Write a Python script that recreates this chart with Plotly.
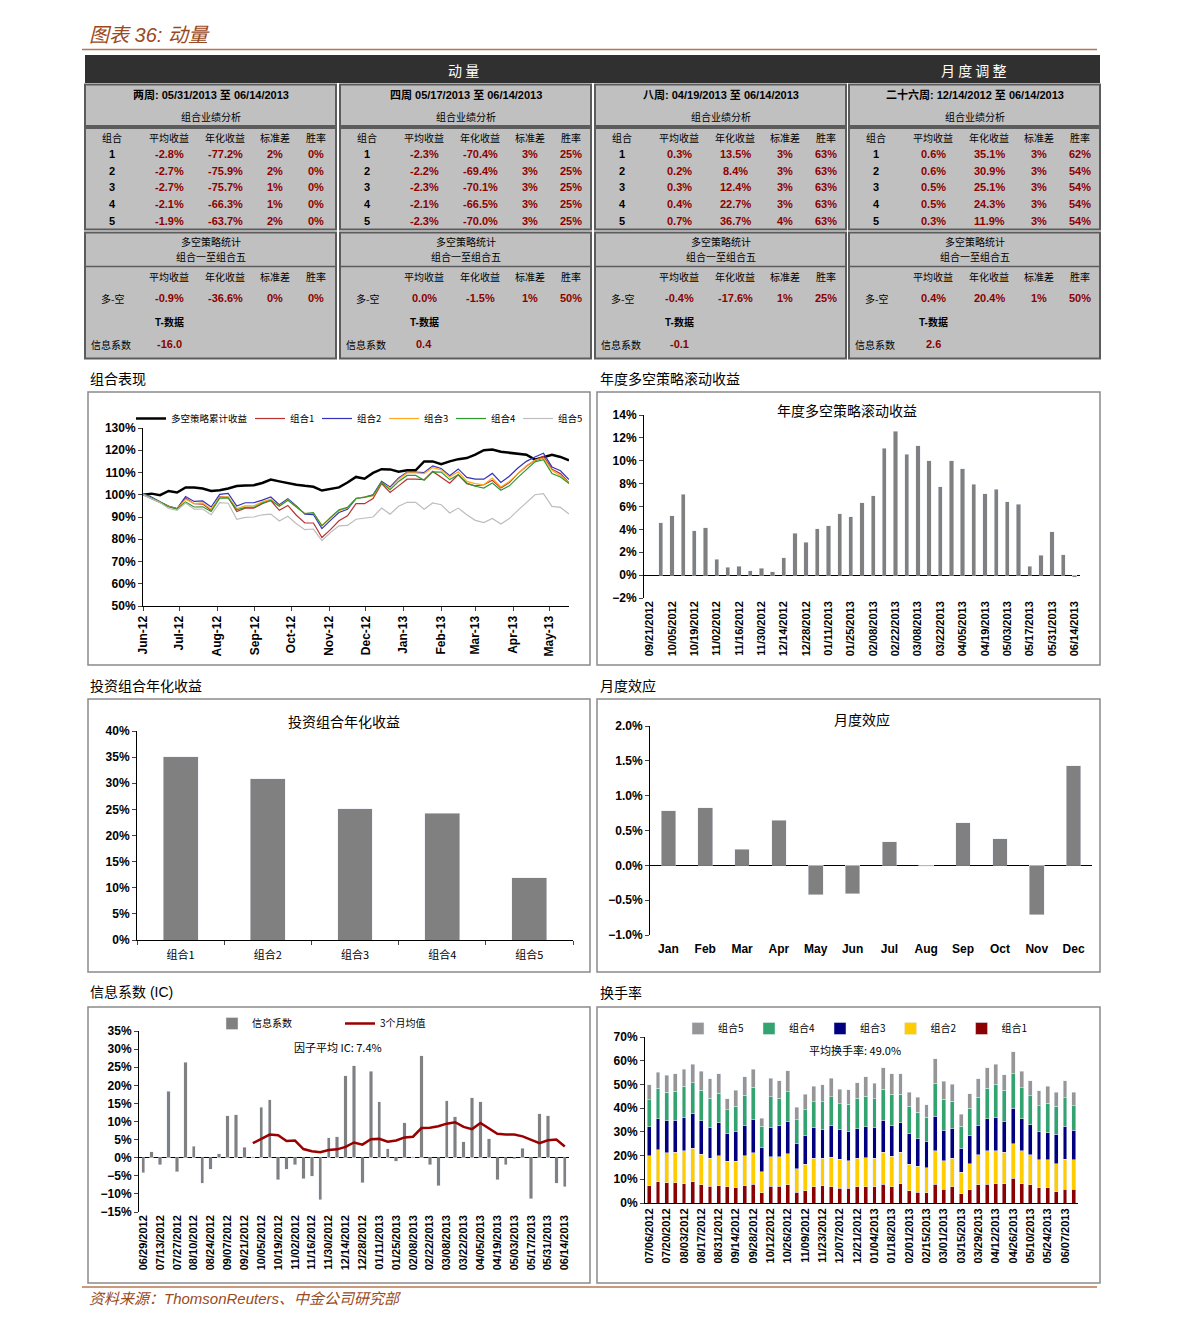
import plotly.graph_objects as go
import pandas as pd

W, H = 1191, 1327
def X(px): return px / W
def Y(py): return 1 - py / H
def xdom(a, b): return [a / W, b / W]
def ydom(top, bottom): return [1 - bottom / H, 1 - top / H]

CJK = "Noto Sans CJK SC"
NUM = "Liberation Sans"
MIX = "Liberation Sans, Noto Sans CJK SC"
DARKRED = "#8b0000"
BROWN = "#9a4a22"
BARGRAY = "#808080"

# ---------------- data ----------------
ALL_WEEKS = ["06/01/2012", "06/08/2012", "06/15/2012", "06/22/2012", "06/29/2012", "07/06/2012",
             "07/13/2012", "07/20/2012", "07/27/2012", "08/03/2012", "08/10/2012", "08/17/2012",
             "08/24/2012", "08/31/2012", "09/07/2012", "09/14/2012", "09/21/2012", "09/28/2012",
             "10/05/2012", "10/12/2012", "10/19/2012", "10/26/2012", "11/02/2012", "11/09/2012",
             "11/16/2012", "11/23/2012", "11/30/2012", "12/07/2012", "12/14/2012", "12/21/2012",
             "12/28/2012", "01/04/2013", "01/11/2013", "01/18/2013", "01/25/2013", "02/01/2013",
             "02/08/2013", "02/15/2013", "02/22/2013", "03/01/2013", "03/08/2013", "03/15/2013",
             "03/22/2013", "03/29/2013", "04/05/2013", "04/12/2013", "04/19/2013", "04/26/2013",
             "05/03/2013", "05/10/2013", "05/17/2013", "05/24/2013", "05/31/2013", "06/07/2013",
             "06/14/2013"]

# chart 1: cumulative performance (%)
PERF_DATES = ALL_WEEKS[:51]
LS_CUM = [100.0, 100.5, 99.8, 101.7, 101.0, 103.3, 103.3, 102.8, 101.7, 102.0,
          102.8, 103.9, 104.2, 104.3, 105.3, 106.8, 106.0, 105.2, 104.5, 104.0,
          103.6, 101.9, 102.5, 103.3, 105.5, 108.0, 107.2, 109.8, 111.5, 111.4,
          110.4, 111.0, 111.0, 115.0, 115.0, 113.7, 115.0, 116.0, 116.5, 118.0,
          120.0, 120.3, 119.3, 118.9, 118.5, 118.0, 115.8, 116.8, 118.0, 117.0, 115.5]
G1_CUM = [100.0, 98.3, 96.8, 94.8, 93.7, 98.5, 96.0, 95.8, 93.0, 99.0,
          98.8, 92.5, 94.0, 94.0, 96.0, 97.4, 93.0, 95.2, 90.8, 87.3,
          87.3, 80.8, 84.3, 88.3, 90.5, 96.0, 96.0, 98.3, 105.0, 101.0,
          104.0, 107.0, 107.0, 106.8, 110.5, 108.0, 105.2, 109.0, 105.0, 104.0,
          104.5, 106.5, 103.0, 105.5, 109.5, 112.8, 115.5, 117.3, 111.5, 109.5, 105.5]
G2_CUM = [100.5, 99.0, 96.8, 94.9, 93.8, 99.2, 97.0, 97.2, 94.5, 100.2,
          100.6, 94.9, 96.4, 96.4, 97.6, 99.0, 95.5, 98.2, 95.0, 91.3,
          91.1, 84.8, 88.5, 92.0, 93.5, 98.3, 99.0, 100.0, 106.0, 103.5,
          107.5, 110.2, 110.2, 110.0, 113.0, 111.8, 108.6, 111.6, 107.8, 107.0,
          107.0, 109.6, 105.5, 108.3, 112.0, 115.0, 117.0, 118.7, 112.5, 110.8, 106.8]
G3_CUM = [100.3, 98.5, 96.8, 94.8, 93.6, 98.0, 96.0, 96.3, 93.5, 98.8,
          99.0, 93.8, 95.0, 95.0, 96.8, 98.0, 95.0, 97.8, 94.5, 91.5,
          91.8, 86.3, 89.5, 92.8, 94.0, 98.4, 99.0, 99.5, 105.5, 103.0,
          107.0, 109.8, 109.8, 109.5, 112.2, 111.2, 108.0, 110.3, 106.0, 105.0,
          104.5, 107.5, 103.5, 106.0, 109.5, 113.0, 115.5, 116.5, 111.0, 108.5, 105.5]
G4_CUM = [100.2, 98.5, 96.8, 94.6, 93.6, 96.8, 94.5, 94.6, 92.5, 98.5,
          98.6, 93.2, 94.3, 94.3, 96.3, 97.5, 94.8, 97.5, 94.3, 91.5,
          92.0, 86.0, 89.8, 93.2, 94.3, 98.3, 98.8, 99.8, 105.5, 102.3,
          106.0, 108.7, 108.7, 106.5, 110.3, 110.2, 106.8, 109.0, 105.3, 103.8,
          103.0, 105.3, 102.0, 104.0, 107.8, 111.5, 114.8, 115.8, 109.5, 108.0, 105.0]
G5_CUM = [100.0, 98.3, 96.5, 93.8, 93.0, 96.3, 93.5, 93.6, 91.0, 96.5,
          96.2, 89.0, 89.8, 90.0, 91.0, 91.3, 88.2, 90.3, 87.0, 84.3,
          84.6, 79.4, 83.0, 86.0, 86.2, 89.0, 89.6, 90.0, 94.0, 91.3,
          94.8, 96.6, 96.6, 93.5, 96.3, 95.5, 91.8, 94.0, 91.0, 88.5,
          87.5, 89.3, 86.8, 89.3, 93.0, 96.3, 100.0, 100.5, 94.8, 94.3, 91.3]

# chart 2: rolling annual long-short return (%)
ROLL_DATES = ALL_WEEKS[16:]
ROLL_RET = [None, 4.6, 5.18, 7.07, 3.9, 4.16, 1.37, 0.67, 0.79, 0.38, 0.58, 0.29, 1.51,
            3.64, 2.88, 4.07, 4.33, 5.35, 5.09, 6.31, 6.95, 11.08, 12.6, 10.56, 11.32,
            9.98, 7.71, 9.98, 9.28, 7.94, 7.13, 7.5, 6.43, 6.2, 0.79, 1.75, 3.78, 1.8, -0.17]

# chart 3: annualized return by portfolio (%)
GROUPS = ["组合1", "组合2", "组合3", "组合4", "组合5"]
ANNUAL_RET = [35.1, 30.9, 25.1, 24.3, 11.9]

# chart 4: monthly effect (%)
MONTHS = ["Jan", "Feb", "Mar", "Apr", "May", "Jun", "Jul", "Aug", "Sep", "Oct", "Nov", "Dec"]
MONTH_EFFECT = [0.78, 0.83, 0.23, 0.65, -0.42, -0.41, 0.34, -0.01, 0.61, 0.38, -0.71, 1.43]

# chart 5: information coefficient (%)
IC_DATES = ALL_WEEKS[4:]
IC_VALUES = [-4.2, 1.7, -2.0, 18.3, -3.9, 26.4, 3.1, -7.0, -3.2, 1.1,
             11.6, 11.9, 2.9, 0.3, 13.9, 16.0, -6.1, -3.2, -2.0, -5.8,
             -5.1, -11.6, 5.5, 5.8, 22.7, 25.4, -6.9, 23.9, 15.5, 2.5,
             -1.0, 9.7, 0.3, 28.2, -2.0, -7.7, 15.7, 11.3, 4.4, 16.5,
             15.5, 5.3, -6.1, -1.9, -0.3, 2.6, -11.4, 12.1, 11.6, -7.1, -8.0]
IC_MA3 = [None] * 13 + [4.0, 5.2, 6.4, 6.2, 4.6, 4.75, 2.4, 1.8, 1.5, 2.1,
                        2.3, 3.0, 4.2, 3.6, 5.1, 5.2, 4.4, 4.75, 5.6, 5.8,
                        8.2, 8.3, 8.7, 9.4, 9.8, 8.5, 7.9, 9.6, 8.2, 6.6,
                        6.4, 6.4, 5.9, 5.0, 4.0, 4.8, 5.0, 3.1]
IC_NOTE = "因子平均 IC: 7.4%"

# chart 6: turnover by portfolio (%)
TURN_DATES = ALL_WEEKS[5:]
TURN_G1 = [7.2, 9.0, 8.5, 8.5, 8.2, 9.0, 7.6, 7.0, 7.3, 6.8, 6.5, 7.3, 7.9, 4.4, 7.0, 7.0, 7.7, 4.5, 5.2, 6.8,
           7.2, 6.9, 6.3, 6.3, 6.8, 6.8, 6.9, 8.0, 6.9, 8.2, 5.2, 4.6, 4.4, 7.9, 5.9, 6.9, 3.8, 5.6, 7.7, 7.9,
           8.2, 8.2, 10.4, 8.2, 7.6, 6.5, 6.5, 4.8, 5.9, 5.9]
TURN_G2 = [12.7, 13.4, 12.6, 12.9, 13.8, 14.1, 13.0, 11.9, 12.7, 10.9, 11.2, 12.7, 13.2, 8.8, 12.4, 12.6, 13.1, 10.0, 11.1, 12.1,
           11.7, 12.4, 12.2, 11.6, 12.1, 12.2, 12.0, 13.5, 12.8, 13.1, 11.1, 11.0, 10.5, 14.2, 12.0, 12.0, 9.2, 10.9, 12.7, 14.2,
           13.9, 13.3, 14.5, 13.8, 12.7, 11.7, 11.7, 11.8, 12.6, 12.3]
TURN_G3 = [12.2, 13.1, 13.5, 13.5, 13.9, 14.5, 14.0, 12.9, 13.8, 11.5, 12.3, 12.7, 14.0, 10.2, 12.4, 13.2, 13.6, 10.4, 12.0, 12.9,
           12.1, 13.4, 12.5, 12.2, 12.5, 13.1, 12.9, 13.3, 13.0, 12.5, 13.0, 11.4, 11.0, 14.4, 12.8, 12.6, 10.0, 11.8, 12.3, 13.5,
           14.0, 12.9, 15.0, 13.5, 12.8, 11.8, 11.5, 12.3, 13.8, 12.5]
TURN_G4 = [11.4, 12.8, 12.0, 12.3, 13.3, 13.1, 12.9, 12.3, 12.4, 10.1, 10.7, 12.7, 13.8, 8.9, 13.0, 11.3, 12.6, 10.2, 11.1, 11.0,
           11.8, 12.2, 10.8, 11.6, 12.8, 13.0, 12.1, 13.1, 13.2, 12.1, 11.4, 11.2, 10.2, 13.9, 13.0, 11.5, 9.4, 11.6, 11.8, 12.7,
           13.9, 13.1, 14.6, 13.2, 12.1, 11.1, 12.3, 11.8, 12.1, 10.4]
TURN_G5 = [6.4, 6.8, 7.2, 7.2, 7.3, 7.9, 8.1, 8.2, 8.4, 4.6, 6.9, 7.8, 7.6, 3.5, 7.9, 7.4, 8.8, 5.2, 6.5, 6.5,
           7.1, 7.8, 6.1, 6.0, 6.5, 8.1, 6.5, 9.1, 8.6, 8.5, 6.1, 6.3, 5.3, 10.4, 7.7, 7.1, 5.1, 6.2, 7.8, 8.7,
           8.5, 6.6, 9.2, 6.9, 6.3, 6.2, 7.3, 6.1, 7.1, 5.7]
TURN_NOTE = "平均换手率: 49.0%"

# table data
PANEL_PERIODS = ["两周: 05/31/2013 至 06/14/2013", "四周 05/17/2013 至 06/14/2013",
                 "八周: 04/19/2013 至 06/14/2013", "二十六周: 12/14/2012 至 06/14/2013"]
AVG_RET = [[-2.8, -2.7, -2.7, -2.1, -1.9], [-2.3, -2.2, -2.3, -2.1, -2.3],
           [0.3, 0.2, 0.3, 0.4, 0.7], [0.6, 0.6, 0.5, 0.5, 0.3]]
ANN_RET = [[-77.2, -75.9, -75.7, -66.3, -63.7], [-70.4, -69.4, -70.1, -66.5, -70.0],
           [13.5, 8.4, 12.4, 22.7, 36.7], [35.1, 30.9, 25.1, 24.3, 11.9]]
STD_DEV = [[2, 2, 1, 1, 2], [3, 3, 3, 3, 3], [3, 3, 3, 3, 4], [3, 3, 3, 3, 3]]
WIN_RATE = [[0, 0, 0, 0, 0], [25, 25, 25, 25, 25], [63, 63, 63, 63, 63], [62, 54, 54, 54, 54]]
LS_AVG = [-0.9, 0.0, -0.4, 0.4]
LS_ANN = [-36.6, -1.5, -17.6, 20.4]
LS_STD = [0, 1, 1, 1]
LS_WIN = [0, 50, 25, 50]
IC_T = [-16.0, 0.4, -0.1, 2.6]
COL_HEADERS = ["组合", "平均收益", "年化收益", "标准差", "胜率"]

# ---------------- figure ----------------
fig = go.Figure()

# chart 1 lines
perf_x = pd.to_datetime(PERF_DATES, format="%m/%d/%Y")
line_specs = [("多空策略累计收益", LS_CUM, "#000000", 2.5, 74),
              ("组合1", G1_CUM, "#b83232", 1.2, 22),
              ("组合2", G2_CUM, "#3333bb", 1.2, 22),
              ("组合3", G3_CUM, "#ffa820", 1.2, 22),
              ("组合4", G4_CUM, "#2e9a2e", 1.2, 22),
              ("组合5", G5_CUM, "#bdbdbd", 1.2, 22)]
for name, vals, col, w, lw in line_specs:
    fig.add_trace(go.Scatter(x=perf_x, y=vals, mode="lines", name=name, legendwidth=lw,
                             line=dict(color=col, width=w), xaxis="x", yaxis="y", legend="legend"))

# chart 2 bars
fig.add_trace(go.Bar(x=ROLL_DATES, y=ROLL_RET, marker_color=BARGRAY, width=0.38,
                     xaxis="x2", yaxis="y2", showlegend=False))
# chart 3 bars
fig.add_trace(go.Bar(x=GROUPS, y=ANNUAL_RET, marker_color=BARGRAY, width=0.4,
                     xaxis="x3", yaxis="y3", showlegend=False))
# chart 4 bars
fig.add_trace(go.Bar(x=MONTHS, y=MONTH_EFFECT, marker_color=BARGRAY, width=0.4,
                     xaxis="x4", yaxis="y4", showlegend=False))
# chart 5
fig.add_trace(go.Bar(x=IC_DATES, y=IC_VALUES, name="信息系数", marker_color=BARGRAY, width=0.4,
                     legendwidth=83, xaxis="x5", yaxis="y5", legend="legend2"))
fig.add_trace(go.Scatter(x=IC_DATES, y=IC_MA3, name="3个月均值", mode="lines",
                         line=dict(color="#990000", width=2.5), xaxis="x5", yaxis="y5",
                         legend="legend2"))
# chart 6 stacked
for name, vals, col in [("组合1", TURN_G1, "#8b0000"), ("组合2", TURN_G2, "#ffcc00"),
                        ("组合3", TURN_G3, "#000080"), ("组合4", TURN_G4, "#33a370"),
                        ("组合5", TURN_G5, "#969696")]:
    fig.add_trace(go.Bar(x=TURN_DATES, y=vals, name=name, marker_color=col, width=0.45,
                         xaxis="x6", yaxis="y6", legend="legend3"))

TICKFONT = dict(family=NUM, size=12, color="black", weight="bold")
DATEFONT = dict(family=NUM, size=11, color="black", weight="bold")

def yax(dom, rng, dtick, fmt=None, zero=False):
    d = dict(domain=dom, range=rng, dtick=dtick, ticksuffix="%", showgrid=False,
             showline=True, linecolor="black", linewidth=1, ticks="outside", ticklen=4,
             tickfont=TICKFONT, zeroline=zero, zerolinecolor="black", zerolinewidth=1,
             automargin=False, fixedrange=True)
    if fmt:
        d["tickformat"] = fmt
    return d

layout = dict(
    width=W, height=H, margin=dict(l=0, r=0, t=0, b=0),
    paper_bgcolor="white", plot_bgcolor="rgba(0,0,0,0)",
    barmode="stack", showlegend=True,
    font=dict(family=CJK, size=11, color="black"),
    xaxis=dict(domain=xdom(143, 569), anchor="y", type="date",
               range=["2012-06-01", "2013-05-17"], dtick="M1", tick0="2012-06-01",
               tickformat="%b-%y", tickangle=-90, tickfont=TICKFONT, showgrid=False,
               showline=True, linecolor="black", ticks="outside", ticklen=4, automargin=False),
    yaxis=yax(ydom(428, 606), [50, 130], 10) | dict(anchor="x"),
    xaxis2=dict(domain=xdom(644, 1080), anchor="y2", type="category",
                tickvals=ROLL_DATES[::2], tickangle=-90, tickfont=DATEFONT,
                showgrid=False, showline=False, ticks="", automargin=False),
    yaxis2=yax(ydom(415, 598), [-2, 14], 2, zero=True) | dict(anchor="x2"),
    xaxis3=dict(domain=xdom(137, 573), anchor="y3", type="category",
                tickfont=dict(family=CJK, size=11, color="black"), showgrid=False,
                showline=True, linecolor="black", ticks="outside", ticklen=4,
                tickson="boundaries", ticklabelstandoff=5, automargin=False),
    yaxis3=yax(ydom(731, 940), [0, 40], 5) | dict(anchor="x3"),
    xaxis4=dict(domain=xdom(650, 1092), anchor="y4", type="category",
                tickfont=dict(family=NUM, size=12, color="black", weight="bold"),
                showgrid=False, showline=False, ticks="", ticklabelstandoff=5, automargin=False),
    yaxis4=yax(ydom(726, 935), [-1, 2], 0.5, fmt=".1f", zero=True) | dict(anchor="x4"),
    xaxis5=dict(domain=xdom(139, 569), anchor="y5", type="category",
                tickvals=IC_DATES[::2], tickangle=-90, tickfont=DATEFONT,
                showgrid=False, showline=False, ticks="", automargin=False),
    yaxis5=yax(ydom(1031, 1212), [-15, 35], 5, zero=True) | dict(anchor="x5"),
    xaxis6=dict(domain=xdom(645, 1078), anchor="y6", type="category",
                tickvals=TURN_DATES[:-1:2], tickangle=-90, tickfont=DATEFONT,
                showgrid=False, showline=True, linecolor="black", ticks="", automargin=False),
    yaxis6=yax(ydom(1037, 1203), [0, 70], 10) | dict(anchor="x6"),
    legend=dict(orientation="h", x=X(131), y=Y(404), xanchor="left", yanchor="top",
                font=dict(family=CJK, size=9.5), itemwidth=30, bgcolor="rgba(0,0,0,0)",
                traceorder="normal", tracegroupgap=0),
    legend2=dict(orientation="h", x=X(212), y=Y(1009), xanchor="left", yanchor="top",
                 font=dict(family=CJK, size=10), itemwidth=30, bgcolor="rgba(0,0,0,0)",
                 traceorder="normal"),
    legend3=dict(orientation="h", x=X(678), y=Y(1014), xanchor="left", yanchor="top",
                 font=dict(family=CJK, size=10), itemwidth=30, bgcolor="rgba(0,0,0,0)",
                 traceorder="reversed"),
)

shapes = []
anns = []

def rect(x0, y0, x1, y1, fill, line_color, lw):
    shapes.append(dict(type="rect", xref="paper", yref="paper", x0=X(x0), x1=X(x1),
                       y0=Y(y1), y1=Y(y0), fillcolor=fill,
                       line=dict(color=line_color, width=lw), layer="below"))

def hline(x0, x1, y, color, lw):
    shapes.append(dict(type="line", xref="paper", yref="paper", x0=X(x0), x1=X(x1),
                       y0=Y(y), y1=Y(y), line=dict(color=color, width=lw), layer="below"))

def text(px, py, s, size=10, color="black", family=CJK, bold=False, italic=False, xanchor="center"):
    anns.append(dict(xref="paper", yref="paper", x=X(px), y=Y(py), text=s, showarrow=False,
                     xanchor=xanchor, yanchor="middle",
                     font=dict(family=family, size=size, color=color,
                               weight="bold" if bold else "normal",
                               style="italic" if italic else "normal")))

# page title & footer
text(87, 35, "图表 36: 动量", size=20, color=BROWN, family=MIX, italic=True, xanchor="left")
hline(82, 1097, 49.5, "#b8764f", 1.5)
hline(82, 1097, 1287, "#b8764f", 1.5)
text(87, 1298, "资料来源：ThomsonReuters、中金公司研究部", size=15, color=BROWN, family=MIX,
     italic=True, xanchor="left")

# dark header bar
rect(85, 55, 1100, 83, "#303030", "#303030", 0)
text(463, 70, "动 量", size=14, color="white")
text(973, 70, "月 度 调 整", size=14, color="white")

# table panels
PANEL_LEFT = [85, 340, 595, 849]
PW = 251
COLS = [27, 84, 140, 190, 231]
ROW_Y = [154, 170.7, 187.3, 204, 220.7]
for p, L in enumerate(PANEL_LEFT):
    rect(L, 84.5, L + PW, 126, "#c0c0c0", "#5c5c5c", 2)
    rect(L, 128, L + PW, 229.5, "#c0c0c0", "#5c5c5c", 2)
    rect(L, 232.5, L + PW, 358.5, "#c0c0c0", "#5c5c5c", 2)
    hline(L, L + PW, 266.5, "#5c5c5c", 1.5)
    cx = L + PW / 2
    text(cx, 94.5, PANEL_PERIODS[p], size=11, family=MIX, bold=True)
    text(cx, 116.5, "组合业绩分析", size=10)
    for c, h in enumerate(COL_HEADERS):
        text(L + COLS[c], 137.5, h, size=10)
    for r in range(5):
        yy = ROW_Y[r]
        text(L + COLS[0], yy, str(r + 1), size=11, family=NUM, bold=True)
        text(L + COLS[1], yy, f"{AVG_RET[p][r]:.1f}%", size=11, family=NUM, bold=True, color=DARKRED)
        text(L + COLS[2], yy, f"{ANN_RET[p][r]:.1f}%", size=11, family=NUM, bold=True, color=DARKRED)
        text(L + COLS[3], yy, f"{STD_DEV[p][r]}%", size=11, family=NUM, bold=True, color=DARKRED)
        text(L + COLS[4], yy, f"{WIN_RATE[p][r]}%", size=11, family=NUM, bold=True, color=DARKRED)
    text(cx, 242, "多空策略统计", size=10)
    text(cx, 256.5, "组合一至组合五", size=10)
    for c, h in enumerate(COL_HEADERS[1:], start=1):
        text(L + COLS[c], 276, h, size=10)
    text(L + 14, 298.5, "多-空", size=10, xanchor="left")
    text(L + COLS[1], 298.5, f"{LS_AVG[p]:.1f}%", size=11, family=NUM, bold=True, color=DARKRED)
    text(L + COLS[2], 298.5, f"{LS_ANN[p]:.1f}%", size=11, family=NUM, bold=True, color=DARKRED)
    text(L + COLS[3], 298.5, f"{LS_STD[p]}%", size=11, family=NUM, bold=True, color=DARKRED)
    text(L + COLS[4], 298.5, f"{LS_WIN[p]}%", size=11, family=NUM, bold=True, color=DARKRED)
    text(L + COLS[1], 321.5, "T-数据", size=10, family=MIX, bold=True)
    text(L + 4, 344.5, "信息系数", size=10, xanchor="left")
    text(L + COLS[1], 344.5, f"{IC_T[p]:.1f}", size=11, family=NUM, bold=True, color=DARKRED)

# chart boxes and section titles
BOXES = [(88, 392, 590, 665), (597, 392, 1100, 665), (88, 699, 590, 972),
         (597, 699, 1100, 972), (88, 1007, 590, 1283), (597, 1007, 1100, 1283)]
for b in BOXES:
    rect(b[0], b[1], b[2], b[3], "white", "#8a8a8a", 1.5)
text(88, 378, "组合表现", size=14, xanchor="left")
text(598, 378, "年度多空策略滚动收益", size=14, xanchor="left")
text(88, 685, "投资组合年化收益", size=14, xanchor="left")
text(598, 685, "月度效应", size=14, xanchor="left")
text(88, 992, "信息系数 (IC)", size=14, family=MIX, xanchor="left")
text(598, 992, "换手率", size=14, xanchor="left")

# in-chart titles & notes
text(847, 410, "年度多空策略滚动收益", size=14)
text(344, 721, "投资组合年化收益", size=14)
text(862, 719, "月度效应", size=14)
text(338, 1046.5, IC_NOTE, size=11)
text(855, 1049.5, TURN_NOTE, size=11)

layout["shapes"] = shapes
layout["annotations"] = anns
fig.update_layout(layout)

fig.write_html("out.html", config={"displayModeBar": False, "staticPlot": True},
               post_script="document.body.style.margin='0';document.body.style.overflow='hidden';")
